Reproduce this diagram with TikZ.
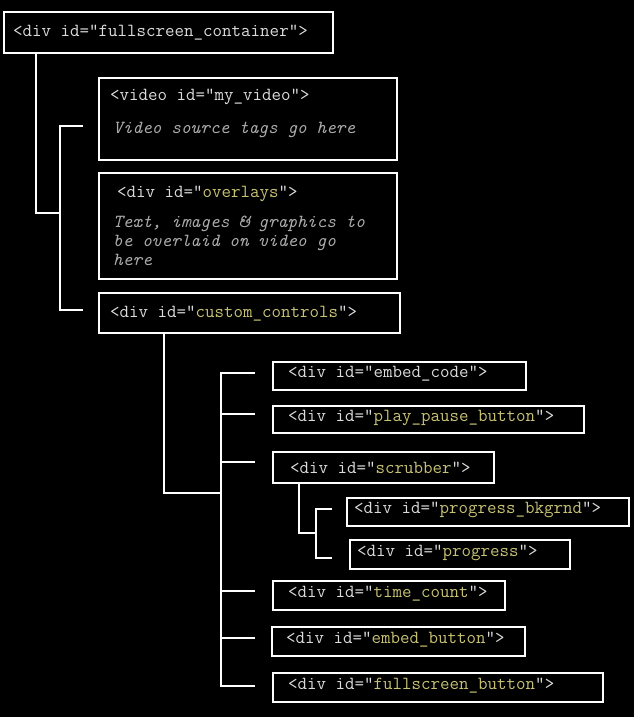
\documentclass[tikz,border=0pt]{standalone}
\usepackage{fontspec}
\definecolor{tagcol}{HTML}{DCDCDC}
\definecolor{idcol}{HTML}{C8C274}
\definecolor{notecol}{HTML}{ABABAB}
\newcommand{\idv}[1]{\textcolor{idcol}{#1}}

\begin{document}
\begin{tikzpicture}[x=1pt, y=-1pt,
    box/.style={draw=white, line width=1.8pt, rectangle, anchor=north west, inner sep=0pt},
    tag/.style={anchor=base west, inner sep=0pt, text=tagcol, font=\ttfamily\fontsize{18.45}{19}\selectfont},
    note/.style={tag, text=notecol, font=\ttfamily\itshape\fontsize{18.45}{19}\selectfont},
    wire/.style={draw=white, line width=1.8pt}]
    \fill[black] (0,0) rectangle (634,717);
    \useasboundingbox (0,0) rectangle (634,717);

    % boxes
    \node[box, minimum width=329, minimum height=41] (cont) at (3,11) {};
    \node[box, minimum width=298, minimum height=82] (vid) at (98,77) {};
    \node[box, minimum width=298, minimum height=106] (ovl) at (98,172) {};
    \node[box, minimum width=301, minimum height=40] (ctl) at (98,292) {};
    \node[box, minimum width=253, minimum height=28] (emb) at (272,361) {};
    \node[box, minimum width=311, minimum height=27] (play) at (272,405) {};
    \node[box, minimum width=221, minimum height=31] (scr) at (272,451) {};
    \node[box, minimum width=282, minimum height=28] (pbk) at (346,497) {};
    \node[box, minimum width=220, minimum height=29] (prg) at (349,539) {};
    \node[box, minimum width=232, minimum height=29] (time) at (272,580) {};
    \node[box, minimum width=253, minimum height=29] (ebtn) at (271,626) {};
    \node[box, minimum width=330, minimum height=29] (fsb) at (272,672) {};

    % texts
    \node[tag] (contt) at (13,37) {<div id="fullscreen\_container">};
    \node[tag] (vidt) at (110,100) {<video id="my\_video">};
    \node[note] (vidn) at (113,133) {Video source tags go here};
    \node[tag] (ovlt) at (117,197) {<div id="\idv{overlays}">};
    \node[note] (ovln1) at (113,227) {Text, images \& graphics to};
    \node[note] (ovln2) at (113,246) {be overlaid on video go};
    \node[note] (ovln3) at (113,265) {here};
    \node[tag] (ctlt) at (110,317) {<div id="\idv{custom\_controls}">};
    \node[tag] (embt) at (288,377) {<div id="embed\_code">};
    \node[tag] (playt) at (288,421) {<div id="\idv{play\_pause\_button}">};
    \node[tag] (scrt) at (290,473) {<div id="\idv{scrubber}">};
    \node[tag] (pbkt) at (354,513) {<div id="\idv{progress\_bkgrnd}">};
    \node[tag] (prgt) at (357,556) {<div id="\idv{progress}">};
    \node[tag] (timet) at (288,597) {<div id="\idv{time\_count}">};
    \node[tag] (ebtnt) at (286,643) {<div id="\idv{embed\_button}">};
    \node[tag] (fsbt) at (288,689) {<div id="\idv{fullscreen\_button}">};

    % junctions and stub ends
    \coordinate (j1) at (60,213);
    \coordinate (vidin) at (83,126);
    \coordinate (ctlin) at (83,310);
    \coordinate (j2) at (221,493);
    \coordinate (embin) at (255,373);
    \coordinate (playin) at (255,414);
    \coordinate (scrin) at (255,462);
    \coordinate (timein) at (255,591);
    \coordinate (ebtnin) at (255,638);
    \coordinate (fsbin) at (255,686);
    \coordinate (j3) at (316,533);
    \coordinate (pbkin) at (332,509);
    \coordinate (prgin) at (332,558);

    % connectors
    \draw[wire] ([xshift=33pt]cont.south west) |- (j1);
    \draw[wire] (vidin) -- ++(-23,0) |- (ctlin);
    \draw[wire] ([xshift=66pt]ctl.south west) |- (j2);
    \draw[wire] (embin) -- ++(-34,0) |- (fsbin);
    \foreach \s in {playin, scrin, timein, ebtnin}
      \draw[wire] (\s) -- ++(-34,0);
    \draw[wire] ([xshift=27pt]scr.south west) |- (j3);
    \draw[wire] (pbkin) -- ++(-16,0) |- (prgin);
  \end{tikzpicture}
\end{document}
